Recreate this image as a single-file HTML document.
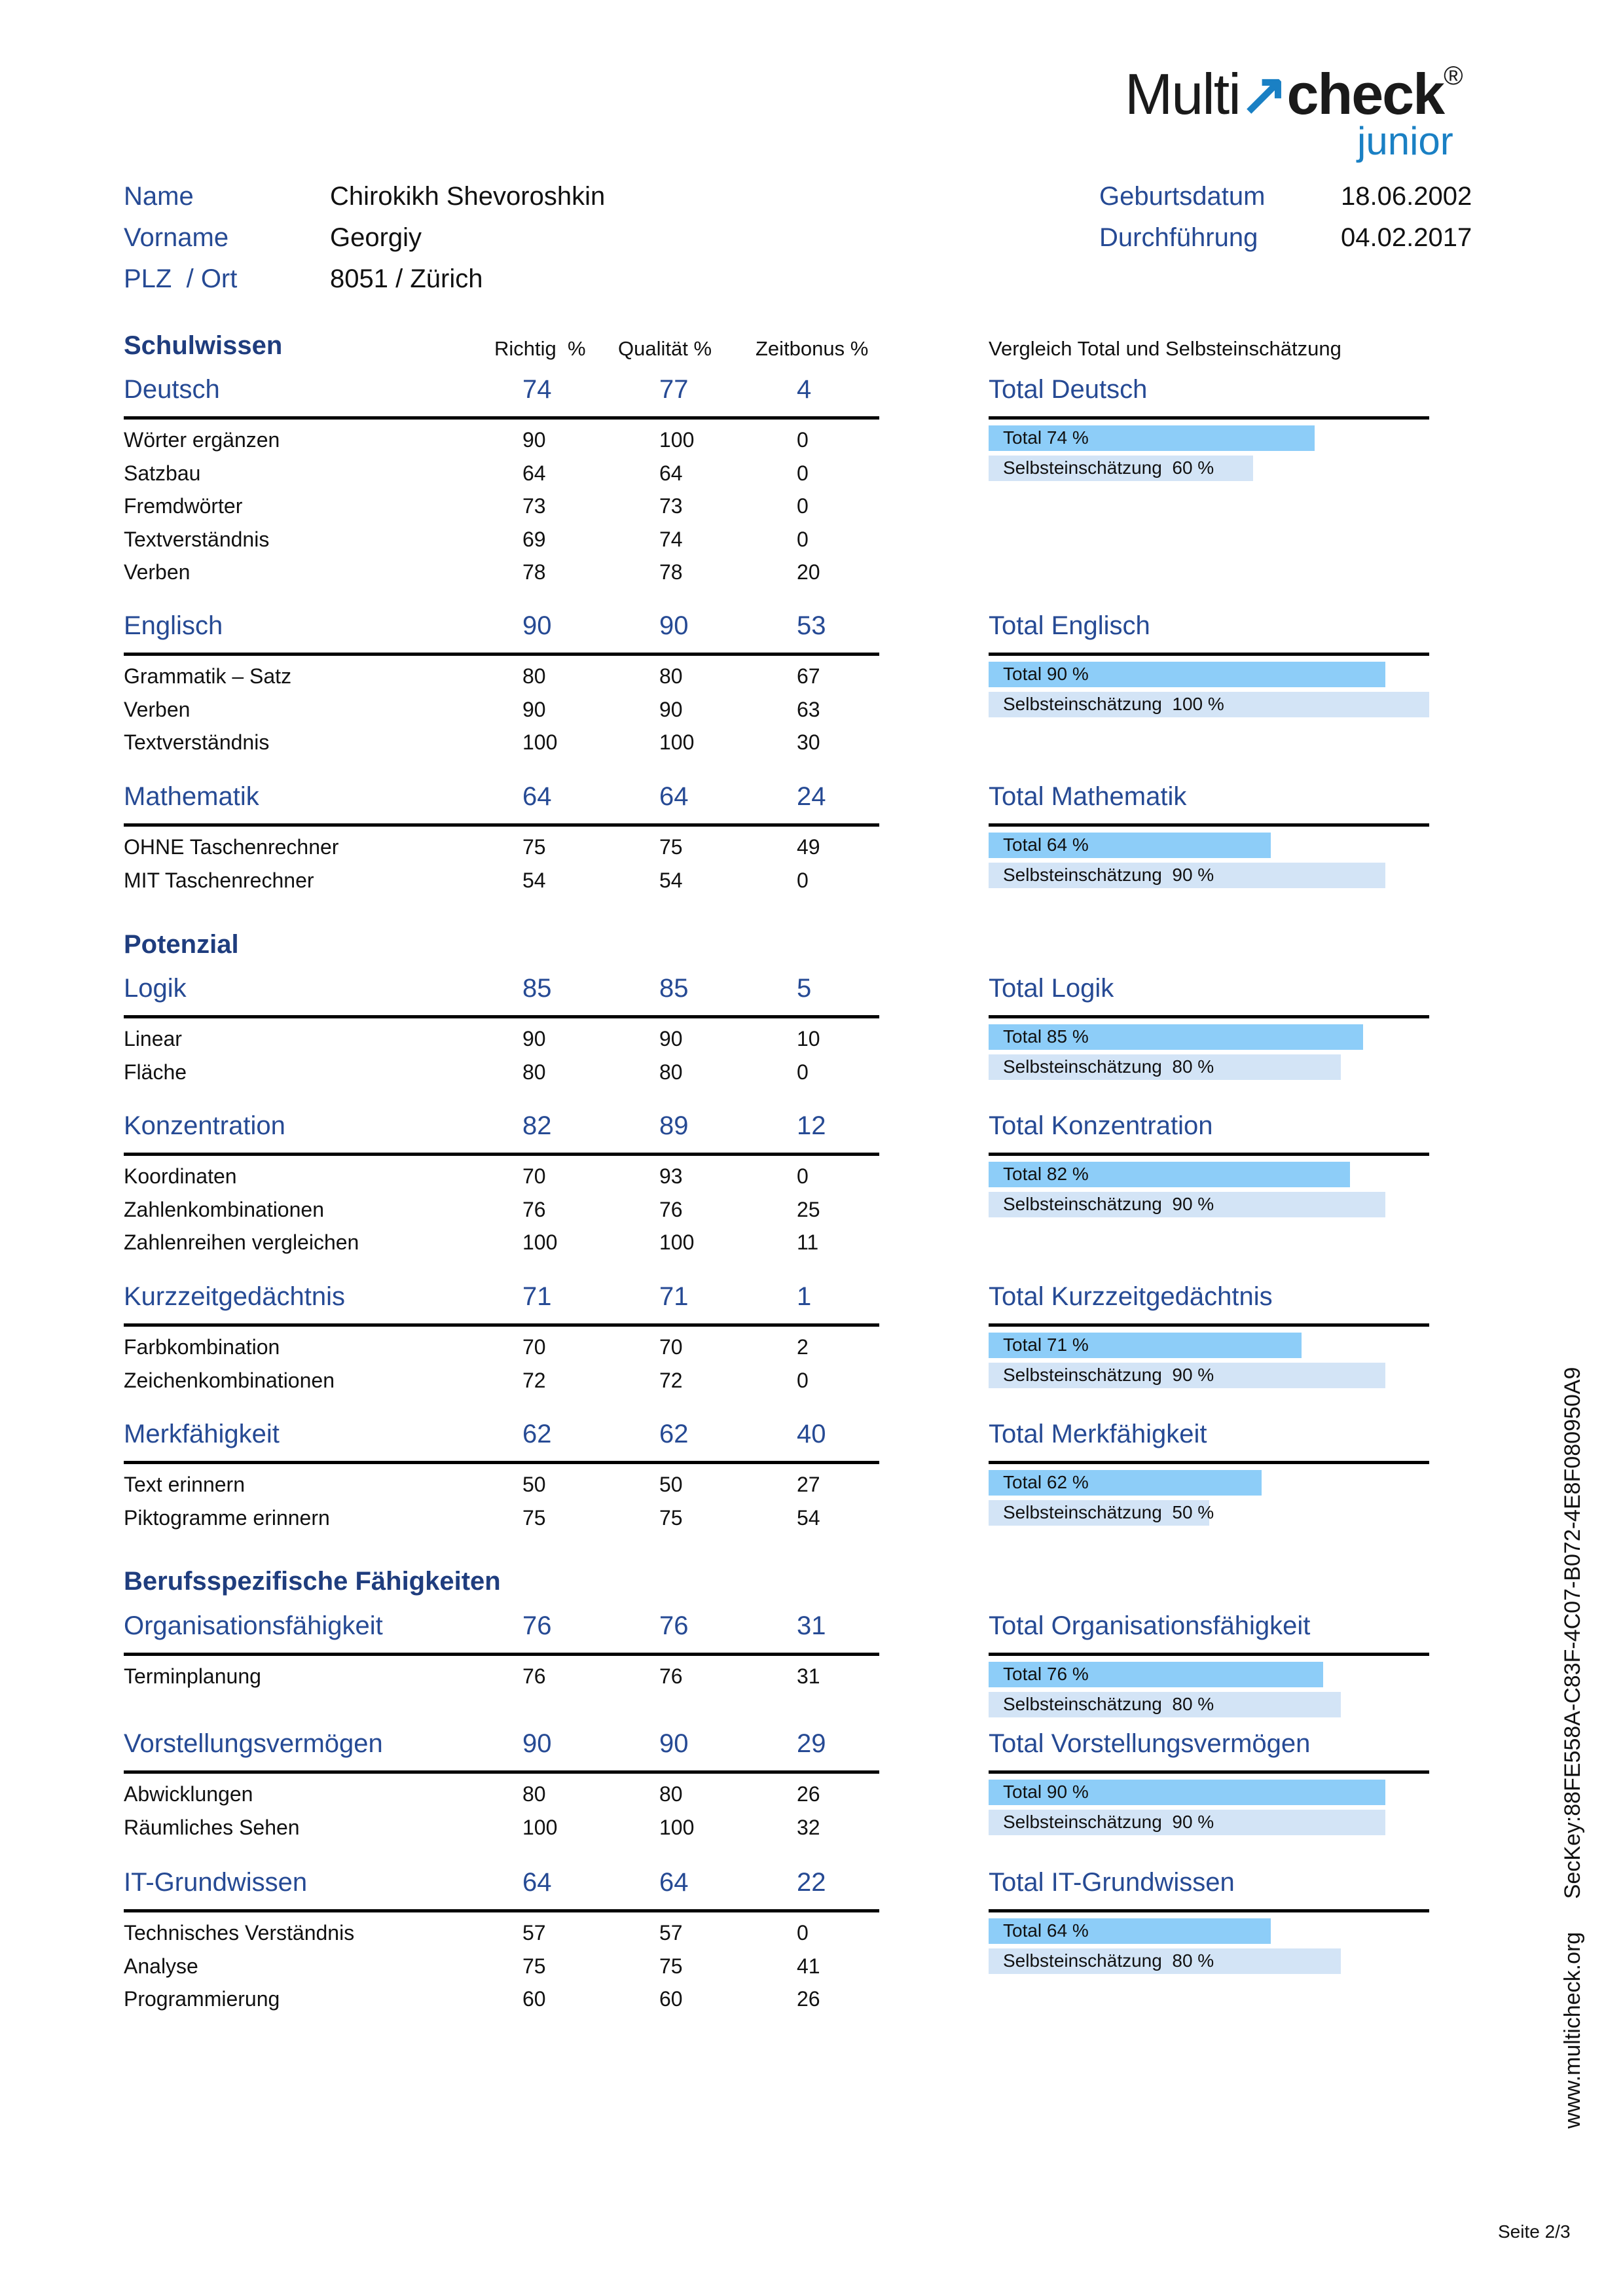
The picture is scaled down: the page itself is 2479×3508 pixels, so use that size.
<!DOCTYPE html>
<html><head><meta charset="utf-8">
<style>
html,body{margin:0;padding:0;background:#fff}
#page{position:relative;width:2479px;height:3508px;overflow:hidden;font-family:"Liberation Sans",Arial,sans-serif;color:#111}
.t{position:absolute;white-space:nowrap;line-height:1}
.blue{color:#264a94}
.rule{position:absolute;height:5px;background:#000}
.bar{position:absolute}
</style></head>
<body>
<div id="page">
  <div class="t" style="left:1718px;top:100px;font-size:88px;letter-spacing:-2px;color:#1a1a1a"><span>Multi</span><span style="color:#1a80c4;font-weight:bold">&#8599;</span><span style="font-weight:bold">check</span><sup style="font-size:40px;vertical-align:top;position:relative;top:-4px">&#174;</sup></div>
  <div class="t" style="left:2073px;top:186px;font-size:60px;color:#1a80c4">junior</div>

  <div class="t blue" style="left:189px;top:280px;font-size:40px">Name</div>
  <div class="t" style="left:504px;top:280px;font-size:40px">Chirokikh Shevoroshkin</div>
  <div class="t blue" style="left:189px;top:343px;font-size:40px">Vorname</div>
  <div class="t" style="left:504px;top:343px;font-size:40px">Georgiy</div>
  <div class="t blue" style="left:189px;top:406px;font-size:40px">PLZ&nbsp; / Ort</div>
  <div class="t" style="left:504px;top:406px;font-size:40px">8051 / Zürich</div>
  <div class="t blue" style="left:1679px;top:280px;font-size:40px">Geburtsdatum</div>
  <div class="t" style="left:2048px;top:280px;font-size:40px">18.06.2002</div>
  <div class="t blue" style="left:1679px;top:343px;font-size:40px">Durchführung</div>
  <div class="t" style="left:2048px;top:343px;font-size:40px">04.02.2017</div>

  <div class="t" style="left:755px;top:517px;font-size:31px">Richtig&nbsp; %</div>
  <div class="t" style="left:944px;top:517px;font-size:31px">Qualität %</div>
  <div class="t" style="left:1154px;top:517px;font-size:31px">Zeitbonus %</div>
  <div class="t" style="left:1510px;top:517px;font-size:31px">Vergleich Total und Selbsteinschätzung</div>

  <div class="t" style="left:2402px;top:2495px;font-size:34px;transform:translate(-50%,-50%) rotate(-90deg)">SecKey:88FE558A-C83F-4C07-B072-4E8F080950A9</div>
  <div class="t" style="left:2402px;top:3102px;font-size:34px;transform:translate(-50%,-50%) rotate(-90deg)">www.multicheck.org</div>
  <div class="t" style="left:2288px;top:3396px;font-size:28px">Seite 2/3</div>
</div>
<script>
const headings = [["Schulwissen", 530], ["Potenzial", 1445], ["Berufsspezifische Fähigkeiten", 2418]];
const sections = ["Deutsch","Englisch","Mathematik","Logik","Konzentration","Kurzzeitgedächtnis","Merkfähigkeit","Organisationsfähigkeit","Vorstellungsvermögen","IT-Grundwissen"];
const sectionY = [597, 958, 1219, 1512, 1722, 1983, 2193, 2486, 2666, 2878];
const richtig = [74, 90, 64, 85, 82, 71, 62, 76, 90, 64];
const qualitaet = [77, 90, 64, 85, 89, 71, 62, 76, 90, 64];
const zeitbonus = [4, 53, 24, 5, 12, 1, 40, 31, 29, 22];
const selbst = [60, 100, 90, 80, 90, 90, 50, 80, 90, 80];
const rowLabels = [
 ["Wörter ergänzen","Satzbau","Fremdwörter","Textverständnis","Verben"],
 ["Grammatik – Satz","Verben","Textverständnis"],
 ["OHNE Taschenrechner","MIT Taschenrechner"],
 ["Linear","Fläche"],
 ["Koordinaten","Zahlenkombinationen","Zahlenreihen vergleichen"],
 ["Farbkombination","Zeichenkombinationen"],
 ["Text erinnern","Piktogramme erinnern"],
 ["Terminplanung"],
 ["Abwicklungen","Räumliches Sehen"],
 ["Technisches Verständnis","Analyse","Programmierung"]];
const rowRichtig = [[90,64,73,69,78],[80,90,100],[75,54],[90,80],[70,76,100],[70,72],[50,75],[76],[80,100],[57,75,60]];
const rowQual = [[100,64,73,74,78],[80,90,100],[75,54],[90,80],[93,76,100],[70,72],[50,75],[76],[80,100],[57,75,60]];
const rowZeit = [[0,0,0,0,20],[67,63,30],[49,0],[10,0],[0,25,11],[2,0],[27,54],[31],[26,32],[0,41,26]];

const page = document.getElementById('page');
const colX = [798, 1007, 1217];
const barX = 1510, barMax = 673;
function txt(s, x, y, fs, cls, extra){
  const d = document.createElement('div');
  d.className = 't ' + (cls||'');
  d.textContent = s;
  d.style.left = x + 'px';
  d.style.top = (y - fs*0.55) + 'px';
  d.style.fontSize = fs + 'px';
  if (extra) d.style.cssText += extra;
  page.appendChild(d);
  return d;
}
headings.forEach((h) => {
  const d = txt(h[0], 189, h[1], 40, 'blue', 'font-weight:bold;color:#1f3d7e');
  
  
});
sections.forEach((name, i) => {
  const y = sectionY[i];
  let d = txt(name, 189, y, 40, 'blue');
  
  
  [richtig[i], qualitaet[i], zeitbonus[i]].forEach((v, k) => {
    const e = txt(String(v), colX[k], y, 40, 'blue');
    
    
  });
  d = txt('Total ' + name, barX, y, 40, 'blue');
  
  
  const ruleY = y + 39;
  const r1 = document.createElement('div');
  r1.className = 'rule';
  r1.style.cssText = `left:189px;top:${ruleY}px;width:1154px`;
  
  
  page.appendChild(r1);
  const r2 = document.createElement('div');
  r2.className = 'rule';
  r2.style.cssText = `left:${barX}px;top:${ruleY}px;width:${barMax}px`;
  
  
  page.appendChild(r2);
  const b1 = document.createElement('div');
  b1.className = 'bar';
  b1.style.cssText = `left:${barX}px;top:${ruleY+14}px;height:39px;width:${barMax*richtig[i]/100}px;background:#8dcdf8`;
  
  
  page.appendChild(b1);
  const b2 = document.createElement('div');
  b2.className = 'bar';
  b2.style.cssText = `left:${barX}px;top:${ruleY+60}px;height:39px;width:${barMax*selbst[i]/100}px;background:#d3e4f6`;
  
  
  page.appendChild(b2);
  const l1 = txt('Total ' + richtig[i] + ' %', barX + 22, ruleY + 34, 28);
  
  
  const l2 = txt('Selbsteinschätzung  ' + selbst[i] + ' %', barX + 22, ruleY + 80, 28);
  l2.style.whiteSpace = 'pre';
  
  
  rowLabels[i].forEach((lab, j) => {
    const ry = ruleY + 38 + j * 50.5;
    const a = txt(lab, 189, ry, 32);
    
    
    [rowRichtig[i][j], rowQual[i][j], rowZeit[i][j]].forEach((v, k) => {
      const e = txt(String(v), colX[k], ry, 32);
      
      
    });
  });
});
</script>
</body></html>
